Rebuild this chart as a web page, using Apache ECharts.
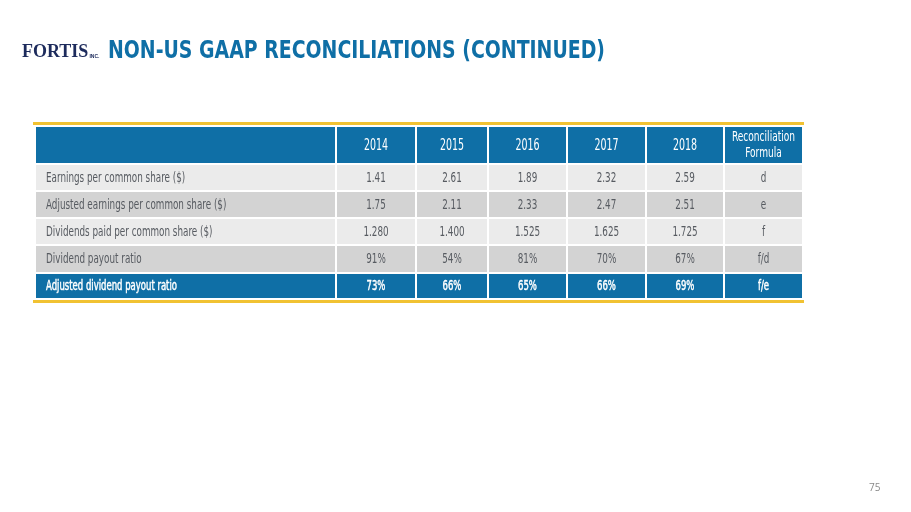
<!DOCTYPE html>
<html>
<head>
<meta charset="utf-8">
<script src="https://cdn.jsdelivr.net/npm/echarts@6/dist/echarts.min.js"></script>
<style>
html,body{margin:0;padding:0;background:#fff;}
#main{width:911px;height:512px;}
</style>
</head>
<body>
<div id="main"></div>
<script>
// ---- data ----
const years = ['2014', '2015', '2016', '2017', '2018'];
const formulaHeader = 'Reconciliation\nFormula';
const rowLabels = [
  'Earnings per common share ($)',
  'Adjusted earnings per common share ($)',
  'Dividends paid per common share ($)',
  'Dividend payout ratio',
  'Adjusted dividend payout ratio'
];
const eps = [1.41, 2.61, 1.89, 2.32, 2.59];
const adjEps = [1.75, 2.11, 2.33, 2.47, 2.51];
const dividends = [1.280, 1.400, 1.525, 1.625, 1.725];
const payoutRatio = [91, 54, 81, 70, 67];
const adjPayoutRatio = [73, 66, 65, 66, 69];
const formulas = ['d', 'e', 'f', 'f/d', 'f/e'];
const titleText = 'NON-US GAAP RECONCILIATIONS (CONTINUED)';
const pageNumber = '75';

// ---- layout (table geometry in grid units = px) ----
const colEdges = [2, 303, 383, 455, 534, 613, 691, 770];
const rowEdges = [4, 42, 69, 96, 123, 151, 177];
const tableW = 771, tableH = 181;

const BLUE = '#0f6fa6';
const GOLD = '#f1c232';
const LIGHT = '#ebebeb';
const DARK = '#d3d3d3';
const TXT = '#575b61';
const FONT = '"Liberation Sans Narrow", "DejaVu Sans Condensed", sans-serif';

// build cells from the arrays
const rowValues = [
  eps.map(v => v.toFixed(2)),
  adjEps.map(v => v.toFixed(2)),
  dividends.map(v => v.toFixed(3)),
  payoutRatio.map(v => v + '%'),
  adjPayoutRatio.map(v => v + '%')
];
const cells = [];
cells.push({ value: [0, 0], text: '' });
years.forEach((y, i) => cells.push({ value: [i + 1, 0], text: y }));
cells.push({ value: [6, 0], text: formulaHeader });
rowLabels.forEach((lab, r) => {
  cells.push({ value: [0, r + 1], text: lab });
  rowValues[r].forEach((v, i) => cells.push({ value: [i + 1, r + 1], text: v }));
  cells.push({ value: [6, r + 1], text: formulas[r] });
});

function renderCell(params, api) {
  const c = api.value(0), r = api.value(1);
  const p0 = api.coord([colEdges[c], rowEdges[r]]);
  const p1 = api.coord([colEdges[c + 1], rowEdges[r + 1]]);
  const x = p0[0] + 1, y = p0[1] + 1;
  const w = p1[0] - p0[0] - 2, h = p1[1] - p0[1] - 2;
  const last = rowEdges.length - 2;
  const blue = (r === 0 || r === last);
  const fill = blue ? BLUE : (r % 2 === 1 ? LIGHT : DARK);
  const text = cells[params.dataIndex].text;
  let fontSize = 13.5, sx = 0.725, lh = 16, stroke = 0;
  if (r === 0) {
    if (c === 6) { fontSize = 14; sx = 0.72; }
    else { fontSize = 15.5; sx = 0.68; }
  }
  if (r === last) { sx = 0.7; stroke = 0.45; }
  const children = [{
    type: 'rect',
    shape: { x: x, y: y, width: w, height: h },
    style: { fill: fill }
  }];
  if (text) {
    children.push({
      type: 'text',
      x: c === 0 ? x + 10 : x + w / 2,
      y: y + h / 2 + 0.5,
      scaleX: sx,
      z2: 10,
      style: {
        text: text,
        fill: blue ? '#ffffff' : TXT,
        font: 'normal ' + fontSize + 'px ' + FONT,
        align: c === 0 ? 'left' : 'center',
        verticalAlign: 'middle',
        lineHeight: lh,
        stroke: stroke ? '#ffffff' : null,
        lineWidth: stroke
      }
    });
  }
  return { type: 'group', children: children };
}

function renderFrame(params, api) {
  const i = params.dataIndex;
  const yTop = i === 0 ? 0 : tableH - 3;
  const p0 = api.coord([0, yTop]);
  const p1 = api.coord([tableW, yTop + 3]);
  return {
    type: 'rect',
    shape: { x: p0[0], y: p0[1], width: p1[0] - p0[0], height: p1[1] - p0[1] },
    style: { fill: GOLD }
  };
}

const chart = echarts.init(document.getElementById('main'), null, { renderer: 'canvas' });
chart.setOption({
  backgroundColor: '#ffffff',
  animation: false,
  grid: { left: 33, top: 122, width: tableW, height: tableH },
  xAxis: { type: 'value', min: 0, max: tableW, show: false },
  yAxis: { type: 'value', min: 0, max: tableH, inverse: true, show: false },
  graphic: [
    {
      type: 'text', x: 22, y: 43,
      style: {
        text: '{a|F}{o|O}{a|RTIS}{s|INC.}',
        rich: {
          a: { font: 'bold 18px "Liberation Serif", "DejaVu Serif", serif', fill: '#1d2b5c' },
          o: { font: 'bold 18px "Liberation Serif", "DejaVu Serif", serif', fill: '#1d2b5c' },
          s: { font: 'bold 5px "Liberation Sans", sans-serif', fill: '#1d2b5c', padding: [9, 0, 0, 1] }
        }
      }
    },
    {
      type: 'text', x: 108, y: 39,
      scaleX: 0.84,
      style: {
        text: titleText,
        font: 'bold 25px ' + FONT,
        fill: BLUE
      }
    },
    {
      type: 'text', x: 869, y: 483,
      style: { text: pageNumber, font: '10px "Open Sans", sans-serif', fill: '#8a8a8a' }
    }
  ],
  series: [
    {
      type: 'custom',
      coordinateSystem: 'cartesian2d',
      renderItem: renderFrame,
      data: [[0, 0], [0, 1]],
      silent: true
    },
    {
      type: 'custom',
      coordinateSystem: 'cartesian2d',
      renderItem: renderCell,
      data: cells,
      silent: true
    }
  ]
});
</script>
</body>
</html>
